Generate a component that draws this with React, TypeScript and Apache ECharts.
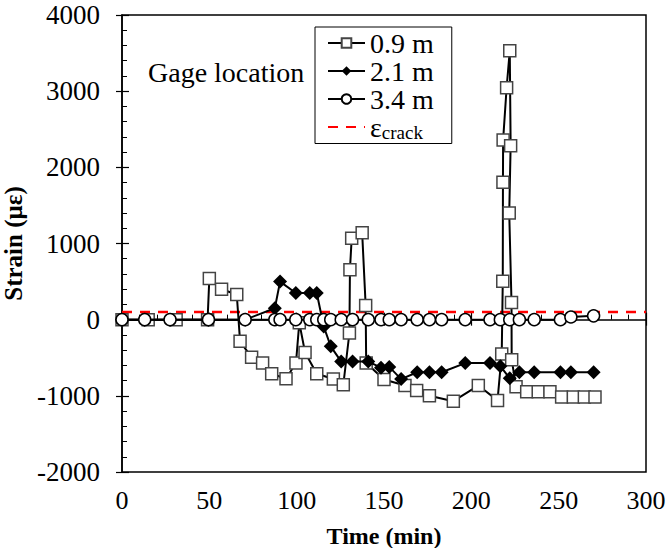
import React, { useEffect, useRef } from "react";
import * as echarts from "echarts";

// 0.9 m gage (squares)
const time09 = [0, 15, 31, 49, 50, 57, 65.7, 67.6, 74.2, 80.5, 85.7, 93.9, 99.6, 101.5, 104.8, 111.5, 121, 126.7, 130.2, 130.5, 131.5, 137.5, 139.5, 139.8, 150, 162, 168.7, 176, 189.7, 204, 215, 217.4, 218, 218.1, 218.2, 220.2, 222, 222.5, 221.7, 223, 223.1, 225.6, 231.7, 238.3, 245, 251.7, 258.4, 264.7, 270.8];
const strain09 = [0, 0, 0, 0, 540, 400, 330, -285, -495, -570, -710, -775, -570, -40, -430, -710, -780, -855, -175, 655, 1070, 1140, 185, -570, -785, -865, -930, -1000, -1070, -865, -1060, -450, 505, 1805, 2360, 3045, 3530, 2285, 1400, 225, -525, -880, -945, -945, -945, -1015, -1015, -1015, -1015];

// 2.1 m and 3.4 m gages share sampling times
const timeShared = [0, 13, 27.5, 49.5, 70.5, 87.5, 90.5, 99.5, 107.5, 111.5, 115.5, 119.5, 125.5, 132, 141, 148.3, 153, 159.8, 169, 176, 183, 196.5, 210.7, 216.6, 222, 227.5, 236, 251, 257, 270];
const strain21 = [0, 0, 0, 0, 0, 150, 500, 350, 350, 350, -90, -350, -550, -550, -550, -630, -620, -780, -690, -690, -690, -570, -570, -610, -770, -690, -690, -690, -690, -690];
const strain34 = [0, 0, 0, 0, 0, 0, 0, 0, 0, 0, 0, 0, 0, 0, 0, 0, 0, 0, 0, 0, 0, 0, 0, 0, 0, 0, 0, 0, 35, 50];

const crackStrain = 100;
const crackRange = [0, 300];

const xMin = 0, xMax = 300, xStep = 50;
const yMin = -2000, yMax = 4000, yStep = 1000;

const FONT = "Liberation Serif";

const zip = (xs: number[], ys: number[]) => xs.map((x, i) => [x, ys[i]]);

export default function App() {
  const ref = useRef<HTMLDivElement>(null);
  useEffect(() => {
    if (!ref.current) return;
    const chart = echarts.init(ref.current, null, { renderer: "svg" });
    const grid = { left: 122, top: 15, width: 524, height: 457 };
    const baseX = {
      type: "value" as const,
      min: xMin,
      max: xMax,
      interval: xStep,
      gridIndex: 0,
      splitLine: { show: false },
    };
    const baseY = {
      type: "value" as const,
      min: yMin,
      max: yMax,
      interval: yStep,
      gridIndex: 0,
      splitLine: { show: false },
    };
    const plain = (v: number) => String(v);
    chart.setOption({
      animation: false,
      backgroundColor: "#fff",
      grid: {
        ...grid,
        containLabel: false,
        outerBoundsMode: "none",
        show: true,
        borderColor: "#000",
        borderWidth: 1.5,
        backgroundColor: "transparent",
      },
      xAxis: [
        {
          ...baseX,
          position: "bottom",
          axisLine: { show: true, lineStyle: { color: "#000", width: 1.5 } },
          axisTick: { show: true, inside: true, length: 7, lineStyle: { color: "#000", width: 1.2 } },
          minorTick: { show: true, splitNumber: 5, length: 5, lineStyle: { color: "#000", width: 1 } },
          axisLabel: { color: "#000", fontFamily: FONT, fontSize: 26, margin: 15, formatter: plain },
          name: "Time (min)",
          nameLocation: "middle",
          nameGap: 52,
          nameTextStyle: { color: "#000", fontFamily: FONT, fontSize: 24, fontWeight: "bold" },
        },
        {
          ...baseX,
          position: "bottom",
          axisLine: { show: false },
          axisTick: { show: true, inside: false, length: 6, lineStyle: { color: "#000", width: 1.2 } },
          axisLabel: { show: false },
        },
      ],
      yAxis: [
        {
          ...baseY,
          position: "left",
          axisLine: { show: true, lineStyle: { color: "#000", width: 1.5 } },
          axisTick: { show: true, inside: true, length: 7, lineStyle: { color: "#000", width: 1.2 } },
          minorTick: { show: true, splitNumber: 5, length: 5, lineStyle: { color: "#000", width: 1 } },
          axisLabel: { color: "#000", fontFamily: FONT, fontSize: 27, margin: 22, formatter: plain },
          name: "Strain (\u03bc\u03b5)",
          nameLocation: "middle",
          nameGap: 78,
          nameTextStyle: { color: "#000", fontFamily: FONT, fontSize: 25, fontWeight: "bold" },
        },
        {
          ...baseY,
          position: "left",
          axisLine: { show: false },
          axisTick: { show: true, inside: false, length: 6, lineStyle: { color: "#000", width: 1.2 } },
          axisLabel: { show: false },
        },
      ],
      legend: {
        orient: "vertical",
        left: 315,
        top: 27,
        padding: [2, 18, 2, 12],
        itemGap: 0,
        itemWidth: 37,
        itemHeight: 12,
        borderColor: "#000",
        borderWidth: 1,
        backgroundColor: "#fff",
        data: [
          { name: "0.9 m" },
          { name: "2.1 m" },
          { name: "3.4 m" },
          { name: "crack", itemStyle: { opacity: 0 } },
        ],
        formatter: (name: string) => (name === "crack" ? "{e|\u03b5}{s|crack}" : name),
        textStyle: {
          color: "#000",
          fontFamily: FONT,
          fontSize: 28,
          rich: {
            e: { fontFamily: FONT, fontSize: 28, color: "#000" },
            s: { fontFamily: FONT, fontSize: 19, color: "#000", verticalAlign: "bottom", padding: [10, 0, 0, 0] },
          },
        },
      },
      graphic: [
        {
          type: "text",
          left: 148,
          top: 58,
          style: { text: "Gage location", fontFamily: FONT, fontSize: 28, fill: "#000" },
        },
      ],
      series: [
        {
          name: "crack",
          type: "line",
          data: crackRange.map((x) => [x, crackStrain]),
          showSymbol: false,
          symbol: "none",
          lineStyle: { color: "#ff0000", width: 2.5, type: [10, 8] },
          itemStyle: { color: "#ff0000" },
          z: 1,
        },
        {
          name: "0.9 m",
          type: "line",
          data: zip(time09, strain09),
          symbol: "rect",
          symbolSize: 12,
          lineStyle: { color: "#000", width: 2 },
          itemStyle: { color: "#fff", borderColor: "#444", borderWidth: 1.5 },
          z: 2,
        },
        {
          name: "2.1 m",
          type: "line",
          data: zip(timeShared, strain21),
          symbol: "diamond",
          symbolSize: 14,
          lineStyle: { color: "#000", width: 2 },
          itemStyle: { color: "#000", borderColor: "#000", borderWidth: 0 },
          z: 3,
        },
        {
          name: "3.4 m",
          type: "line",
          data: zip(timeShared, strain34),
          symbol: "circle",
          symbolSize: 12,
          lineStyle: { color: "#000", width: 2 },
          itemStyle: { color: "#fff", borderColor: "#000", borderWidth: 1.5 },
          z: 4,
        },
      ],
    });
    return () => chart.dispose();
  }, []);
  return <div ref={ref} style={{ width: 669, height: 548, position: "absolute", left: 0, top: 0 }} />;
}
